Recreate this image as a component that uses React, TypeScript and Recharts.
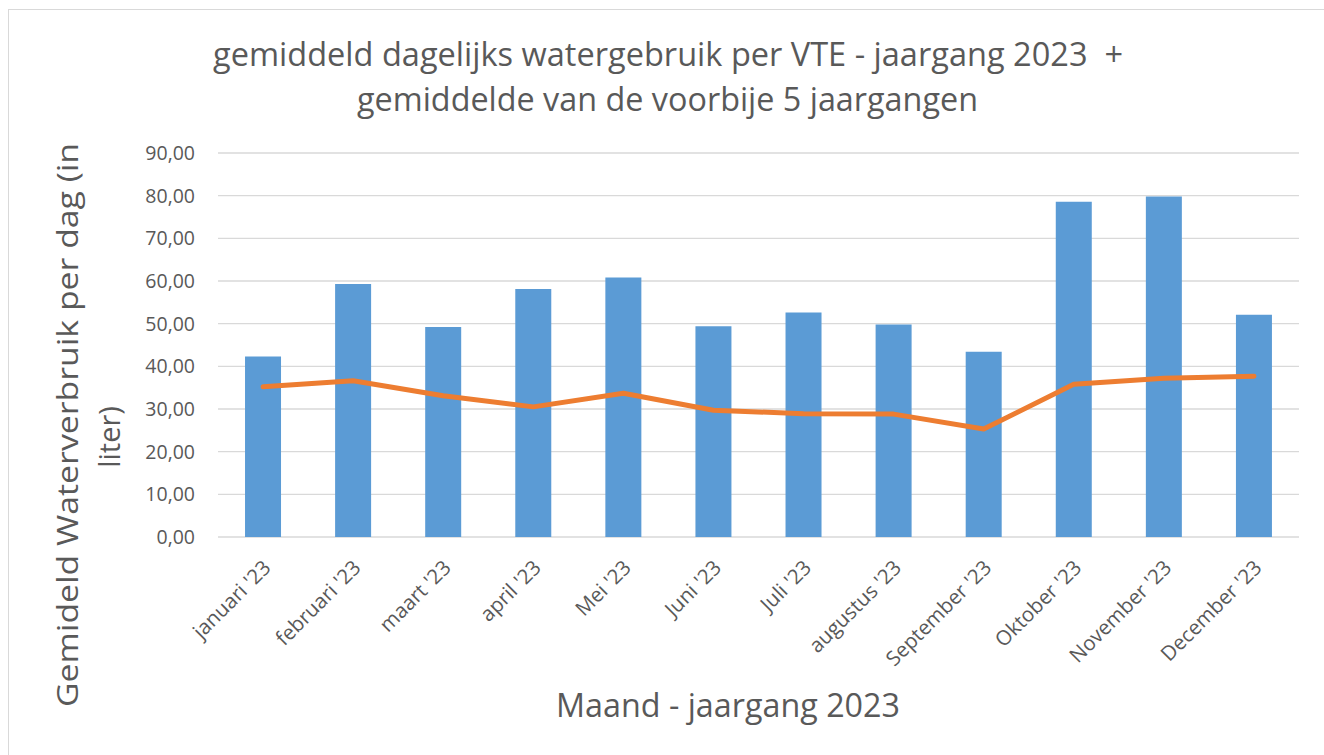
import { ComposedChart, Bar, Line, XAxis, YAxis, CartesianGrid } from 'recharts';

// months on the x axis
const months = [
  "januari '23", "februari '23", "maart '23", "april '23", "Mei '23", "Juni '23",
  "Juli '23", "augustus '23", "September '23", "Oktober '23", "November '23", "December '23",
];

// gemiddeld dagelijks watergebruik 2023 (bars)
const usage2023 = [42.3, 59.3, 49.2, 58.1, 60.8, 49.4, 52.6, 49.8, 43.4, 78.6, 79.8, 52.1];

// gemiddelde van de voorbije 5 jaargangen (line)
const avgPast5 = [35.2, 36.6, 33.1, 30.5, 33.7, 29.7, 28.9, 28.8, 25.3, 35.8, 37.2, 37.7];

const yTicks = [0, 10, 20, 30, 40, 50, 60, 70, 80, 90];

const TEXT = '#595959';
const FONT = '"Open Sans", sans-serif';

const chartData = months.map((m, i) => ({
  month: m,
  usage: usage2023[i],
  avg: avgPast5[i],
}));

// rotated month label, Excel style
const MonthTick = ({ x, y, payload }: any) => (
  <g transform={`translate(${x + 9},${y + 32})`}>
    <text
      x={0}
      y={0}
      transform="rotate(-45)"
      textAnchor="end"
      fill={TEXT}
      fontSize={20.5}
      fontFamily={FONT}
    >
      {payload.value}
    </text>
  </g>
);

export default function App() {
  return (
    <div style={{ position: 'absolute', left: 0, top: 0, width: 1324, height: 755, overflow: 'hidden', background: '#fff' }}>
      {/* chart frame */}
      <div style={{ position: 'absolute', left: 8, top: 9, width: 1400, height: 900, border: '1.5px solid #d9d9d9' }} />

      <div style={{ position: 'absolute', left: 0, top: 0 }}>
        <ComposedChart
          width={1324}
          height={755}
          data={chartData}
          margin={{ top: 153, right: 25, bottom: 68, left: 0 }}
          barCategoryGap="30%"
        >
          <CartesianGrid vertical={false} stroke="#d9d9d9" strokeWidth={1.4} />
          <XAxis
            dataKey="month"
            height={150}
            axisLine={false}
            tickLine={false}
            tickSize={0}
            tickMargin={0}
            interval={0}
            tick={<MonthTick />}
          />
          <YAxis
            width={218}
            domain={[0, 90]}
            ticks={yTicks}
            axisLine={false}
            tickLine={false}
            tickSize={0}
            tickMargin={23}
            tickFormatter={(v: number) => v.toFixed(2).replace('.', ',')}
            tick={{ fill: TEXT, fontSize: 19.5, fontFamily: FONT }}
          />
          <Bar dataKey="usage" fill="#5B9BD5" isAnimationActive={false} />
          <Line
            type="linear"
            dataKey="avg"
            stroke="#ED7D31"
            strokeWidth={5}
            strokeLinecap="round"
            strokeLinejoin="round"
            dot={false}
            activeDot={false}
            isAnimationActive={false}
          />
        </ComposedChart>
      </div>

      {/* titles */}
      <svg width={1324} height={755} style={{ position: 'absolute', left: 0, top: 0, pointerEvents: 'none' }}>
        <text x={213} y={66} fontSize={32} fontFamily={FONT} fill={TEXT} textLength={910} lengthAdjust="spacingAndGlyphs" style={{ whiteSpace: 'pre' }}>
          gemiddeld dagelijks watergebruik per VTE - jaargang 2023  +
        </text>
        <text x={357} y={111} fontSize={32} fontFamily={FONT} fill={TEXT} textLength={621} lengthAdjust="spacingAndGlyphs">
          gemiddelde van de voorbije 5 jaargangen
        </text>
        <text x={556} y={717} fontSize={32} fontFamily={FONT} fill={TEXT} textLength={344} lengthAdjust="spacingAndGlyphs">
          Maand - jaargang 2023
        </text>
        <g transform="translate(78,707) rotate(-90)">
          <text x={0} y={0} fontSize={29} fontFamily={FONT} fill={TEXT} textLength={564} lengthAdjust="spacingAndGlyphs">
            Gemideld Waterverbruik per dag (in
          </text>
        </g>
        <g transform="translate(120,437) rotate(-90)">
          <text x={0} y={0} fontSize={29} fontFamily={FONT} fill={TEXT} textAnchor="middle">
            liter)
          </text>
        </g>
      </svg>
    </div>
  );
}
